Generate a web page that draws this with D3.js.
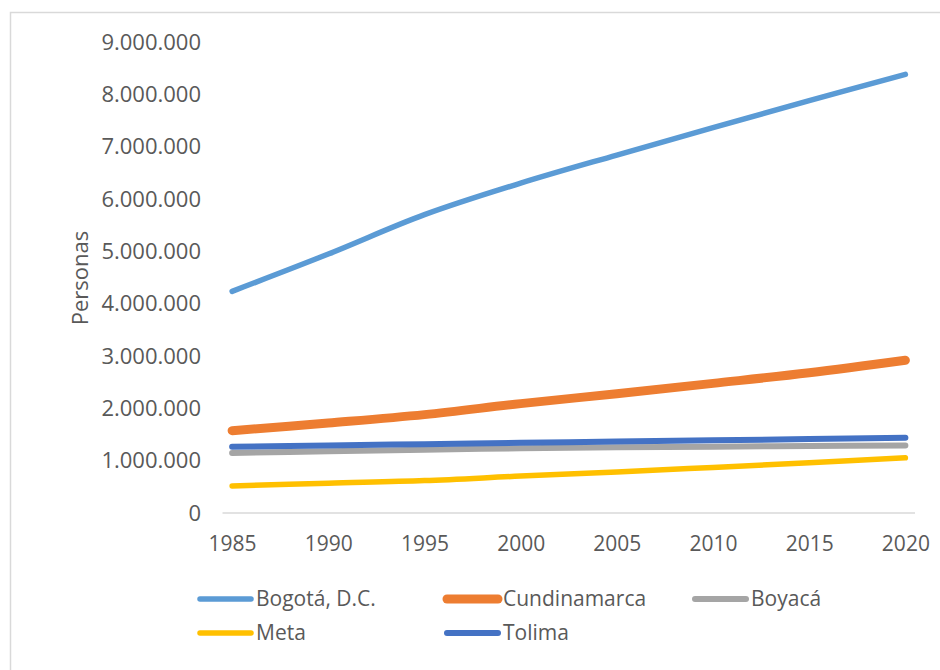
<!DOCTYPE html>
<html>
<head>
<meta charset="utf-8">
<script src="https://cdn.jsdelivr.net/npm/d3@7"></script>
<style>
  html, body { margin: 0; padding: 0; background: #fff; }
  svg { display: block; }
  text { font-family: "Open Sans", "Noto Sans", sans-serif; fill: #595959; }
</style>
</head>
<body>
<svg id="chart" width="940" height="670"></svg>
<script>
// Population by department, 1985–2020 (personas)
const years = [1985, 1990, 1995, 2000, 2005, 2010, 2015, 2020];
const bogota       = [4236000, 4948000, 5700000, 6303000, 6840000, 7364000, 7879000, 8381000];
const cundinamarca = [1573000, 1720000, 1880000, 2090000, 2280000, 2477000, 2680000, 2919000];
const boyaca       = [1147000, 1180000, 1210000, 1235000, 1255000, 1268000, 1280000, 1292000];
const meta         = [516000, 570000, 620000, 705000, 783000, 871000, 961000, 1055000];
const tolima       = [1267000, 1290000, 1315000, 1340000, 1365000, 1390000, 1412000, 1440000];
const yTicks = [0, 1000000, 2000000, 3000000, 4000000, 5000000, 6000000, 7000000, 8000000, 9000000];
const seriesNames = ["Bogotá, D.C.", "Cundinamarca", "Boyacá", "Meta", "Tolima"];

const series = [
  { name: seriesNames[0], values: bogota,       color: "#5B9BD5", width: 5.5 },
  { name: seriesNames[1], values: cundinamarca, color: "#ED7D31", width: 9 },
  { name: seriesNames[2], values: boyaca,       color: "#A5A5A5", width: 6 },
  { name: seriesNames[3], values: meta,         color: "#FFC000", width: 5.5 },
  { name: seriesNames[4], values: tolima,       color: "#4472C4", width: 6 }
];

const svg = d3.select("#chart");

// chart frame
svg.append("rect")
  .attr("x", 10.5).attr("y", 12.5)
  .attr("width", 940).attr("height", 670)
  .attr("fill", "#fff")
  .attr("stroke", "#d9d9d9").attr("stroke-width", 1.5);

const x = d3.scaleLinear().domain([1984.5, 2020.5]).range([222.5, 915]);
const y = d3.scaleLinear().domain([0, 9000000]).range([513, 42]);

const fmt = v => d3.format(",")(v).replace(/,/g, ".");

// y axis labels (no line, no ticks)
const yAxis = d3.axisLeft(y).tickValues(yTicks).tickFormat(fmt).tickSize(0).tickPadding(0);
const gy = svg.append("g").attr("transform", "translate(201,0)").call(yAxis);
gy.select(".domain").remove();
gy.selectAll("text")
  .attr("font-family", "'Open Sans', sans-serif")
  .attr("font-size", 22).attr("fill", "#595959");

// zero baseline
svg.append("line")
  .attr("x1", x.range()[0]).attr("x2", x.range()[1])
  .attr("y1", y(0)).attr("y2", y(0))
  .attr("stroke", "#d9d9d9").attr("stroke-width", 1.5);

// x axis labels
const xAxis = d3.axisBottom(x).tickValues(years).tickFormat(d3.format("d")).tickSize(0).tickPadding(23);
const gx = svg.append("g").attr("transform", `translate(0,${y(0)})`).call(xAxis);
gx.select(".domain").remove();
gx.selectAll("text")
  .attr("font-family", "'Open Sans', sans-serif")
  .attr("font-size", 21).attr("fill", "#595959");

// y axis title
svg.append("text")
  .attr("transform", "translate(88,278) rotate(-90)")
  .attr("text-anchor", "middle")
  .attr("font-size", 22)
  .text("Personas");

// series lines
const line = d3.line()
  .x((d, i) => x(years[i]))
  .y(d => y(d))
  .curve(d3.curveCatmullRom.alpha(0.5));

svg.append("g").selectAll("path")
  .data(series)
  .join("path")
  .attr("d", d => line(d.values))
  .attr("fill", "none")
  .attr("stroke", d => d.color)
  .attr("stroke-width", d => d.width)
  .attr("stroke-linecap", "round")
  .attr("stroke-linejoin", "round");

// legend
const legendPos = [[198, 599], [445, 599], [693, 599], [198, 633], [445, 633]];
const lg = svg.append("g").selectAll("g")
  .data(series)
  .join("g")
  .attr("transform", (d, i) => `translate(${legendPos[i][0]},${legendPos[i][1]})`);
lg.append("line")
  .attr("x1", 2).attr("x2", 53).attr("y1", 0).attr("y2", 0)
  .attr("stroke", d => d.color)
  .attr("stroke-width", d => d.width)
  .attr("stroke-linecap", "round");
lg.append("text")
  .attr("x", 58).attr("y", 0).attr("dy", "0.35em")
  .attr("font-size", 21)
  .text(d => d.name);
</script>
</body>
</html>
